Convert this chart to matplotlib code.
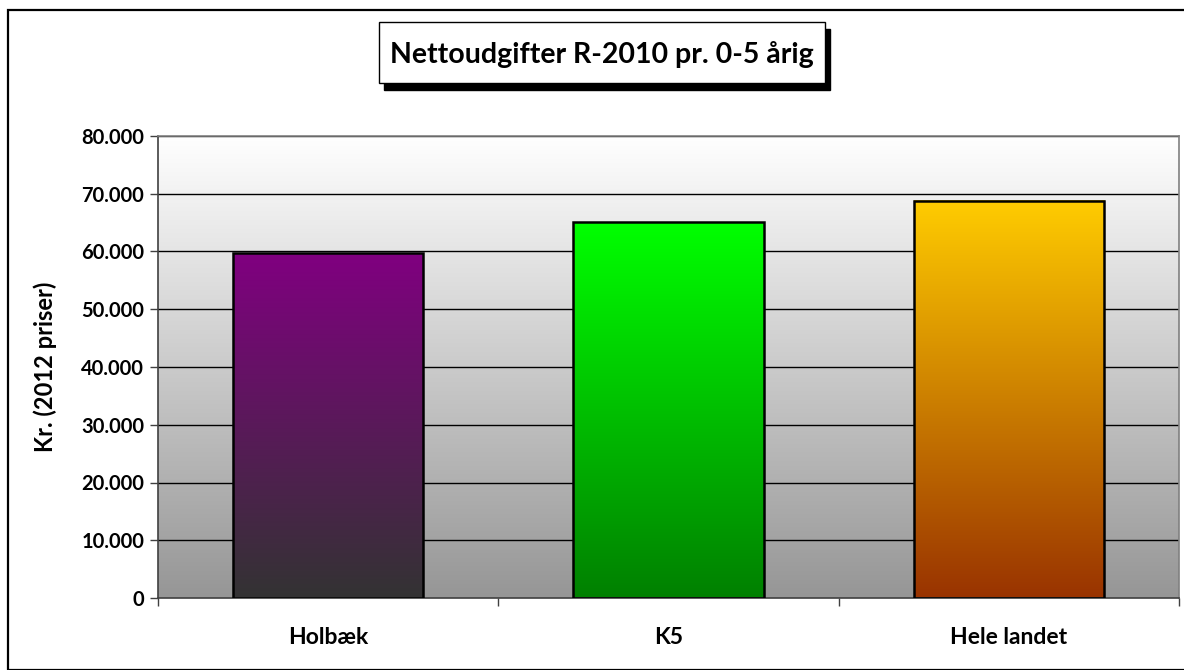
import numpy as np
import matplotlib.pyplot as plt
from matplotlib.patches import Rectangle
from matplotlib.colors import LinearSegmentedColormap
from matplotlib.ticker import FuncFormatter, FixedLocator

categories = ["Holbæk", "K5", "Hele landet"]
values = [59700, 65100, 68800]
title = "Nettoudgifter R-2010 pr. 0-5 årig"
ylabel = "Kr. (2012 priser)"
bar_colors = [("#800080", "#333333"), ("#00FF00", "#008000"), ("#FFCC00", "#993300")]

plt.rcParams['font.family'] = ['Lato', 'DejaVu Sans']
plt.rcParams['font.weight'] = 'bold'

W, H = 1184, 670
fig = plt.figure(figsize=(W / 100, H / 100), dpi=100)
fig.patch.set_facecolor("white")

# outer chart border
fig.patches.append(Rectangle((8 / W, 0), 1.2, 1 - 10 / H, transform=fig.transFigure,
                             fill=False, edgecolor="black", linewidth=1.6, zorder=0))

ax = fig.add_axes([158 / W, 1 - 598 / H, (1179 - 158) / W, (598 - 136) / H])
ymax = 80000

# gradient plot area: white at top to grey at bottom
grad = np.linspace(0, 1, 256).reshape(-1, 1)
bg_cmap = LinearSegmentedColormap.from_list("bg", ["#FFFFFF", "#969696"])
ax.imshow(grad, cmap=bg_cmap, extent=[-0.5, len(categories) - 0.5, 0, ymax],
          origin="upper", aspect="auto", zorder=0, interpolation="bicubic")

ax.yaxis.set_major_locator(FixedLocator(np.arange(0, ymax + 1, 10000)))
for y in np.arange(10000, ymax + 1, 10000):
    ax.axhline(y, color="black", linewidth=1.0, zorder=1)

bars = ax.bar(range(len(categories)), values, width=0.56, facecolor="none",
              edgecolor="black", linewidth=1.8, zorder=3)
for bar, (top_c, bot_c) in zip(bars, bar_colors):
    x0 = bar.get_x()
    x1 = x0 + bar.get_width()
    h = bar.get_height()
    cm = LinearSegmentedColormap.from_list("b", [top_c, bot_c])
    ax.imshow(grad, cmap=cm, extent=[x0, x1, 0, h], origin="upper",
              aspect="auto", zorder=2, interpolation="bicubic")

ax.set_xlim(-0.5, len(categories) - 0.5)
ax.set_ylim(0, ymax)

for s in ["top", "right"]:
    ax.spines[s].set_color("#808080")
    ax.spines[s].set_linewidth(1.2)
for s in ["left", "bottom"]:
    ax.spines[s].set_color("#404040")
    ax.spines[s].set_linewidth(1.2)

ax.yaxis.set_major_formatter(FuncFormatter(lambda v, p: f"{int(v):,}".replace(",", ".")))
ax.tick_params(axis="y", direction="out", length=6, width=1, color="#404040",
               labelsize=14.5, pad=4)
ax.set_xticks([0.5, 1.5, 2.5, -0.5])
ax.set_xticklabels([])
ax.set_xticks(range(len(categories)), minor=True)
ax.set_xticklabels(categories, minor=True, fontsize=16.5, fontweight="bold")
ax.tick_params(axis="x", which="major", direction="out", length=6, width=1, color="#404040")
ax.tick_params(axis="x", which="minor", length=0, pad=21)
for lab in ax.get_yticklabels():
    lab.set_fontweight("bold")

fig.text(45 / W, 1 - 367 / H, ylabel, rotation=90, ha="center", va="center",
         fontsize=17, fontweight="bold")

# title box with shadow
fig.patches.append(Rectangle((384 / W, 1 - 90 / H), 446 / W, 61 / H, transform=fig.transFigure,
                             facecolor="black", edgecolor="black", zorder=1))
fig.patches.append(Rectangle((379 / W, 1 - 83 / H), 446 / W, 61 / H, transform=fig.transFigure,
                             facecolor="white", edgecolor="black", linewidth=1, zorder=2))
fig.text(602 / W, 1 - 55 / H, title, ha="center", va="center", fontsize=20.5,
         fontweight="bold", zorder=3)

fig.savefig("out.png", dpi=100)
